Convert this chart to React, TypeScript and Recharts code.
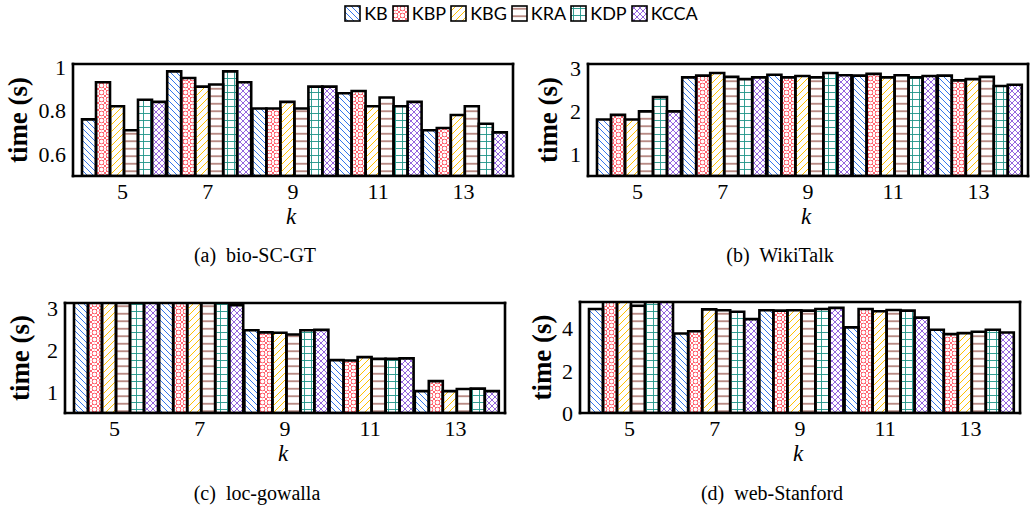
import React from "react";
import { BarChart, Bar, XAxis, YAxis } from "recharts";

const ks = ["5", "7", "9", "11", "13"];
const series = ["KB", "KBP", "KBG", "KRA", "KDP", "KCCA"];

// one row per series (same order as `series`), one column per k
const bioSCGT = [
  [0.76, 0.98, 0.81, 0.88, 0.71],
  [0.93, 0.95, 0.81, 0.89, 0.72],
  [0.82, 0.91, 0.84, 0.82, 0.78],
  [0.71, 0.92, 0.81, 0.86, 0.82],
  [0.85, 0.98, 0.91, 0.82, 0.74],
  [0.84, 0.93, 0.91, 0.84, 0.7],
];
const wikiTalk = [
  [1.81, 2.79, 2.85, 2.83, 2.83],
  [1.92, 2.83, 2.79, 2.87, 2.72],
  [1.81, 2.89, 2.82, 2.79, 2.75],
  [2.0, 2.8, 2.79, 2.84, 2.8],
  [2.33, 2.75, 2.89, 2.79, 2.59],
  [2.0, 2.79, 2.84, 2.82, 2.62],
];
const locGowalla = [
  [3.6, 3.4, 2.47, 1.76, 1.02],
  [3.7, 3.4, 2.42, 1.75, 1.26],
  [3.6, 3.3, 2.41, 1.83, 1.02],
  [3.5, 3.3, 2.37, 1.79, 1.07],
  [3.6, 3.2, 2.47, 1.79, 1.08],
  [3.5, 3.07, 2.48, 1.8, 1.02],
];
const webStanford = [
  [4.92, 3.76, 4.86, 4.05, 3.94],
  [5.4, 3.87, 4.84, 4.92, 3.73],
  [5.5, 4.9, 4.86, 4.81, 3.78],
  [5.07, 4.86, 4.84, 4.87, 3.84],
  [5.5, 4.79, 4.92, 4.84, 3.94],
  [5.4, 4.44, 4.97, 4.51, 3.81],
];

const bioTicks = [0.6, 0.8, 1];
const wikiTicks = [1, 2, 3];
const locTicks = [1, 2, 3];
const webTicks = [0, 2, 4];

const colors: Record<string, string> = {
  KB: "#1f66e8",
  KBP: "#ff3b4b",
  KBG: "#ffc000",
  KRA: "#7a2418",
  KDP: "#1f9488",
  KCCA: "#7a3fd6",
};

const serif = "'Liberation Serif', serif";
const frameLine = { stroke: "#000", strokeWidth: 2.6, strokeLinecap: "square" as const };

const panels = [
  { tag: "(a)", name: "bio-SC-GT", values: bioSCGT, ticks: bioTicks, domain: [0.5, 1.014], left: 0, top: 40, fl: 73, ft: 65, fr: 512, fb: 176, lab: 55, cap: 255, capY: 255 },
  { tag: "(b)", name: "WikiTalk", values: wikiTalk, ticks: wikiTicks, domain: [0.5, 3.1], left: 517, top: 40, fl: 588, ft: 65, fr: 1027, fb: 176, lab: 40, cap: 780, capY: 255 },
  { tag: "(c)", name: "loc-gowalla", values: locGowalla, ticks: locTicks, domain: [0.5, 3.12], left: 0, top: 280, fl: 65, ft: 304, fr: 504, fb: 413, lab: 45, cap: 257, capY: 493 },
  { tag: "(d)", name: "web-Stanford", values: webStanford, ticks: webTicks, domain: [0, 5.25], left: 517, top: 280, fl: 580, ft: 303, fr: 1019, fb: 413, lab: 38, cap: 772, capY: 493 },
];

function Patterns() {
  return (
    <svg width={0} height={0} style={{ position: "absolute" }}>
      <defs>
        <pattern id="pat-KB" width={6} height={6} patternUnits="userSpaceOnUse">
          <path d="M-1,-1 L7,7 M-1,5 L1,7 M5,-1 L7,1" stroke={colors.KB} strokeWidth={0.9} />
        </pattern>
        <pattern id="pat-KBP" width={7} height={7} patternUnits="userSpaceOnUse">
          <circle cx={3.5} cy={3.5} r={2.3} fill="none" stroke={colors.KBP} strokeWidth={0.8} />
          <path d="M0,0 L1.9,1.9 M7,0 L5.1,1.9 M0,7 L1.9,5.1 M7,7 L5.1,5.1" stroke={colors.KBP} strokeWidth={0.8} />
        </pattern>
        <pattern id="pat-KBG" width={7} height={7} patternUnits="userSpaceOnUse">
          <path d="M-1,8 L8,-1 M-1,1 L1,-1 M6,8 L8,6" stroke={colors.KBG} strokeWidth={1} />
        </pattern>
        <pattern id="pat-KRA" width={8} height={7.5} patternUnits="userSpaceOnUse">
          <path d="M0,3.75 L8,3.75" stroke={colors.KRA} strokeWidth={1} />
        </pattern>
        <pattern id="pat-KDP" width={7} height={7} patternUnits="userSpaceOnUse">
          <path d="M0,3.5 L7,3.5 M3.5,0 L3.5,7" stroke={colors.KDP} strokeWidth={0.9} />
        </pattern>
        <pattern id="pat-KCCA" width={6} height={6} patternUnits="userSpaceOnUse">
          <path d="M-1,-1 L7,7 M-1,7 L7,-1 M-1,5 L1,7 M5,-1 L7,1 M-1,1 L1,-1 M5,7 L7,5" stroke={colors.KCCA} strokeWidth={0.8} />
        </pattern>
      </defs>
    </svg>
  );
}

function Panel({ p }: { p: (typeof panels)[number] }) {
  const data = ks.map((k, i) => {
    const row: Record<string, any> = { k };
    series.forEach((s, j) => (row[s] = p.values[j][i]));
    return row;
  });
  const W = 517;
  const H = 200;
  const xH = 50;
  const margin = { top: p.ft - p.top - 1, right: p.left + W - p.fr - 1, bottom: H - (p.fb - p.top) - xH, left: 0 };
  const tickStyle = { fontSize: 22, fill: "#000", fontFamily: serif };
  return (
    <>
      <div style={{ position: "absolute", left: p.left, top: p.top }}>
        <BarChart width={W} height={H} data={data} margin={margin} barCategoryGap={2} barGap={0}>
          <XAxis
            xAxisId="b"
            dataKey="k"
            height={xH}
            padding={{ left: 7, right: 7 }}
            axisLine={frameLine}
            tickLine={false}
            tickSize={5}
            tickMargin={2}
            interval={0}
            tick={tickStyle}
            label={{
              content: ({ viewBox }: any) => (
                <text x={viewBox.x + viewBox.width / 2 - 2} y={viewBox.y + 48} textAnchor="middle" fontFamily={serif} fontStyle="italic" fontSize={23}>
                  k
                </text>
              ),
            }}
          />
          <XAxis xAxisId="t" dataKey="k" orientation="top" mirror height={1} padding={{ left: 7, right: 7 }} axisLine={frameLine} tickSize={4} tickLine={{ stroke: "#999", strokeWidth: 0.8 }} tick={false} interval={0} />
          <YAxis
            yAxisId="l"
            type="number"
            width={p.fl - p.left}
            domain={p.domain}
            allowDataOverflow
            ticks={p.ticks}
            axisLine={frameLine}
            tickLine={false}
            tickSize={4}
            tickMargin={3}
            tick={tickStyle}
            label={{
              content: ({ viewBox }: any) => {
                const x = viewBox.x + viewBox.width - p.lab;
                const y = viewBox.y + viewBox.height / 2;
                return (
                  <text x={x} y={y} transform={`rotate(-90 ${x} ${y})`} textAnchor="middle" dominantBaseline="central" fontFamily={serif} fontWeight="bold" fontSize={27}>
                    time (s)
                  </text>
                );
              },
            }}
          />
          <YAxis yAxisId="r" type="number" orientation="right" mirror width={1} domain={p.domain} allowDataOverflow ticks={p.ticks} axisLine={frameLine} tickSize={4} tickLine={{ stroke: "#999", strokeWidth: 0.8 }} tick={false} />
          {series.map((s) => (
            <Bar key={s} dataKey={s} xAxisId="b" yAxisId="l" fill={`url(#pat-${s})`} stroke="#000" strokeWidth={2.6} isAnimationActive={false} />
          ))}
        </BarChart>
      </div>
      <div
        style={{
          position: "absolute",
          left: p.cap - 150,
          width: 300,
          top: p.capY - 12,
          textAlign: "center",
          fontFamily: serif,
          fontSize: 20,
          lineHeight: "24px",
          whiteSpace: "pre",
        }}
      >
        {p.tag + "  " + p.name}
      </div>
    </>
  );
}

function LegendRow() {
  return (
    <div
      style={{
        position: "absolute",
        left: 0,
        top: 3,
        width: 1046,
        display: "flex",
        justifyContent: "center",
        alignItems: "center",
        fontFamily: "Lato, sans-serif",
        fontSize: 18,
        lineHeight: "20px",
      }}
    >
      {series.map((s) => (
        <div key={s} style={{ display: "flex", alignItems: "center", marginRight: 4 }}>
          <svg width={17} height={17} style={{ marginRight: 3 }}>
            <rect x={1} y={1} width={15} height={15} fill={`url(#pat-${s})`} stroke="#000" strokeWidth={1.6} />
          </svg>
          <span>{s}</span>
        </div>
      ))}
    </div>
  );
}

export default function App() {
  return (
    <div style={{ position: "absolute", left: 0, top: 0, width: 1034, height: 506, background: "#fff" }}>
      <Patterns />
      {panels.map((p) => (
        <Panel key={p.tag} p={p} />
      ))}
      <LegendRow />
    </div>
  );
}
